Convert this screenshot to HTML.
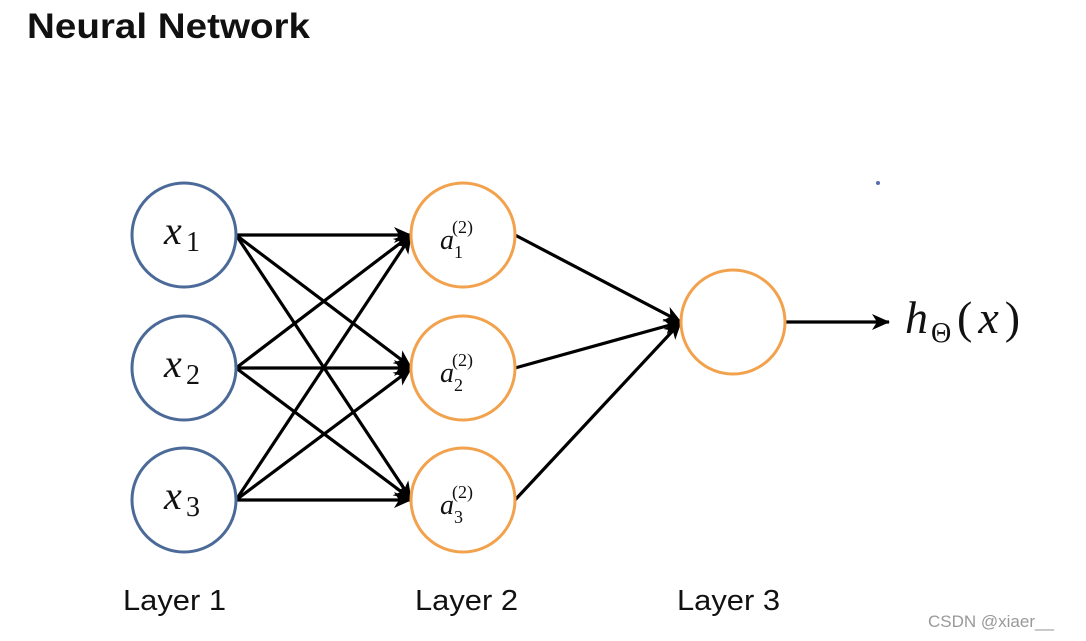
<!DOCTYPE html>
<html><head><meta charset="utf-8"><style>
html,body{margin:0;padding:0;background:#fff;width:1086px;height:641px;overflow:hidden}
</style></head><body>
<svg width="1086" height="641" viewBox="0 0 1086 641" xmlns="http://www.w3.org/2000/svg">
<defs>
<marker id="b" markerWidth="18" markerHeight="16" refX="17" refY="8" orient="auto" markerUnits="userSpaceOnUse"><path d="M0,0 L18,8 L0,16 L5,8 Z" fill="#000"/></marker></defs>
<text x="27" y="38" font-family="Liberation Sans, sans-serif" font-weight="bold" font-size="35" fill="#111" textLength="283" lengthAdjust="spacingAndGlyphs">Neural Network</text>
<g stroke="#000" stroke-width="3.2" fill="none" marker-end="url(#b)">
<line x1="236" y1="235" x2="411" y2="235"/><line x1="236" y1="235" x2="411" y2="367"/><line x1="236" y1="235" x2="411" y2="499"/>
<line x1="236" y1="368" x2="411" y2="235"/><line x1="236" y1="368" x2="411" y2="368"/><line x1="236" y1="368" x2="411" y2="499"/>
<line x1="236" y1="500" x2="411" y2="236"/><line x1="236" y1="500" x2="411" y2="369"/><line x1="236" y1="500" x2="411" y2="500"/>
<line x1="515" y1="235" x2="681" y2="322"/><line x1="515" y1="368" x2="681" y2="322"/><line x1="515" y1="500" x2="681" y2="322"/>
<line x1="786" y1="322" x2="889" y2="322"/>
</g>
<g fill="#fff" stroke="#4b6a98" stroke-width="3">
<circle cx="184" cy="235" r="52"/><circle cx="184" cy="368" r="52"/><circle cx="184" cy="500" r="52"/></g>
<g fill="#fff" stroke="#f2a24d" stroke-width="3">
<circle cx="463" cy="235" r="52"/><circle cx="463" cy="368" r="52"/><circle cx="463" cy="500" r="52"/><circle cx="733" cy="322" r="52"/></g>
<g font-family="Liberation Serif, serif" fill="#111">
<text x="164" y="244" font-size="40" font-style="italic">x</text><text x="186" y="251" font-size="28">1</text>
<text x="164" y="377" font-size="40" font-style="italic">x</text><text x="186" y="384" font-size="28">2</text>
<text x="164" y="509" font-size="40" font-style="italic">x</text><text x="186" y="516" font-size="28">3</text>
<text x="440" y="249" font-size="28" font-style="italic">a</text><text x="454" y="258" font-size="18">1</text><text x="452" y="233" font-size="18">(2)</text>
<text x="440" y="382" font-size="28" font-style="italic">a</text><text x="454" y="391" font-size="18">2</text><text x="452" y="366" font-size="18">(2)</text>
<text x="440" y="514" font-size="28" font-style="italic">a</text><text x="454" y="523" font-size="18">3</text><text x="452" y="498" font-size="18">(2)</text>
<text x="905" y="333" font-size="46" font-style="italic">h</text><text x="931" y="342" font-size="28">Θ</text><text x="957" y="333" font-size="46" letter-spacing="6">(<tspan font-style="italic">x</tspan>)</text>
</g>
<g font-family="Liberation Sans, sans-serif" font-size="29" fill="#111">
<text x="123" y="610" textLength="103" lengthAdjust="spacingAndGlyphs">Layer 1</text><text x="415" y="610" textLength="103" lengthAdjust="spacingAndGlyphs">Layer 2</text><text x="677" y="610" textLength="103" lengthAdjust="spacingAndGlyphs">Layer 3</text></g>
<text x="928" y="627" font-family="Liberation Sans, sans-serif" font-size="17" fill="#999">CSDN @xiaer__</text>
<circle cx="878" cy="183" r="2" fill="#5a6ab0"/>
</svg>
</body></html>
